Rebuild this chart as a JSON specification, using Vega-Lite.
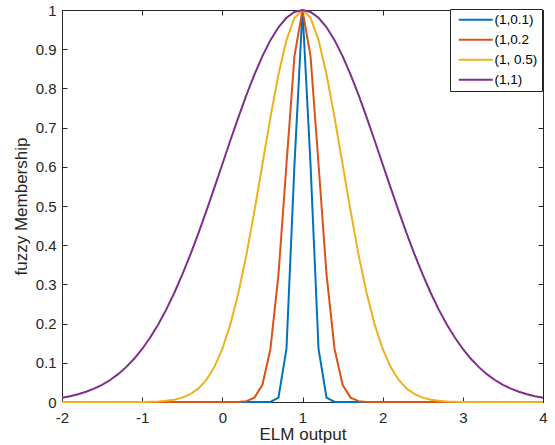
{
  "$schema": "https://vega.github.io/schema/vega-lite/v6.json",
  "autosize": {"type": "none"},
  "width": 481,
  "height": 392,
  "padding": {"left": 62, "top": 10, "right": 12, "bottom": 43},
  "background": "white",
  "config": {
    "font": "Liberation Sans",
    "view": {"stroke": "#262626", "strokeWidth": 1},
    "axis": {"labelFont": "Liberation Sans", "titleFont": "Liberation Sans", "labelColor": "#262626", "titleColor": "#262626", "titleFontWeight": "normal"}
  },
  "data": {"values": [
    {"x":-2,"s":"(1,0.1)","y":0},{"x":-1.9,"s":"(1,0.1)","y":0},{"x":-1.8,"s":"(1,0.1)","y":0},{"x":-1.7,"s":"(1,0.1)","y":0},{"x":-1.6,"s":"(1,0.1)","y":0},{"x":-1.5,"s":"(1,0.1)","y":0},{"x":-1.4,"s":"(1,0.1)","y":0},{"x":-1.3,"s":"(1,0.1)","y":0},{"x":-1.2,"s":"(1,0.1)","y":0},{"x":-1.1,"s":"(1,0.1)","y":0},{"x":-1,"s":"(1,0.1)","y":0},{"x":-0.9,"s":"(1,0.1)","y":0},{"x":-0.8,"s":"(1,0.1)","y":0},{"x":-0.7,"s":"(1,0.1)","y":0},{"x":-0.6,"s":"(1,0.1)","y":0},{"x":-0.5,"s":"(1,0.1)","y":0},{"x":-0.4,"s":"(1,0.1)","y":0},{"x":-0.3,"s":"(1,0.1)","y":0},{"x":-0.2,"s":"(1,0.1)","y":0},{"x":-0.1,"s":"(1,0.1)","y":0},{"x":0,"s":"(1,0.1)","y":0},{"x":0.1,"s":"(1,0.1)","y":0},{"x":0.2,"s":"(1,0.1)","y":0},{"x":0.3,"s":"(1,0.1)","y":0},{"x":0.4,"s":"(1,0.1)","y":0},{"x":0.5,"s":"(1,0.1)","y":0},{"x":0.6,"s":"(1,0.1)","y":0.0003},{"x":0.7,"s":"(1,0.1)","y":0.0111},{"x":0.8,"s":"(1,0.1)","y":0.1353},{"x":0.9,"s":"(1,0.1)","y":0.6065},{"x":1,"s":"(1,0.1)","y":1},{"x":1.1,"s":"(1,0.1)","y":0.6065},{"x":1.2,"s":"(1,0.1)","y":0.1353},{"x":1.3,"s":"(1,0.1)","y":0.0111},{"x":1.4,"s":"(1,0.1)","y":0.0003},{"x":1.5,"s":"(1,0.1)","y":0},{"x":1.6,"s":"(1,0.1)","y":0},{"x":1.7,"s":"(1,0.1)","y":0},{"x":1.8,"s":"(1,0.1)","y":0},{"x":1.9,"s":"(1,0.1)","y":0},{"x":2,"s":"(1,0.1)","y":0},{"x":2.1,"s":"(1,0.1)","y":0},{"x":2.2,"s":"(1,0.1)","y":0},{"x":2.3,"s":"(1,0.1)","y":0},{"x":2.4,"s":"(1,0.1)","y":0},{"x":2.5,"s":"(1,0.1)","y":0},{"x":2.6,"s":"(1,0.1)","y":0},{"x":2.7,"s":"(1,0.1)","y":0},{"x":2.8,"s":"(1,0.1)","y":0},{"x":2.9,"s":"(1,0.1)","y":0},{"x":3,"s":"(1,0.1)","y":0},{"x":3.1,"s":"(1,0.1)","y":0},{"x":3.2,"s":"(1,0.1)","y":0},{"x":3.3,"s":"(1,0.1)","y":0},{"x":3.4,"s":"(1,0.1)","y":0},{"x":3.5,"s":"(1,0.1)","y":0},{"x":3.6,"s":"(1,0.1)","y":0},{"x":3.7,"s":"(1,0.1)","y":0},{"x":3.8,"s":"(1,0.1)","y":0},{"x":3.9,"s":"(1,0.1)","y":0},{"x":4,"s":"(1,0.1)","y":0},
    {"x":-2,"s":"(1,0.2","y":0},{"x":-1.9,"s":"(1,0.2","y":0},{"x":-1.8,"s":"(1,0.2","y":0},{"x":-1.7,"s":"(1,0.2","y":0},{"x":-1.6,"s":"(1,0.2","y":0},{"x":-1.5,"s":"(1,0.2","y":0},{"x":-1.4,"s":"(1,0.2","y":0},{"x":-1.3,"s":"(1,0.2","y":0},{"x":-1.2,"s":"(1,0.2","y":0},{"x":-1.1,"s":"(1,0.2","y":0},{"x":-1,"s":"(1,0.2","y":0},{"x":-0.9,"s":"(1,0.2","y":0},{"x":-0.8,"s":"(1,0.2","y":0},{"x":-0.7,"s":"(1,0.2","y":0},{"x":-0.6,"s":"(1,0.2","y":0},{"x":-0.5,"s":"(1,0.2","y":0},{"x":-0.4,"s":"(1,0.2","y":0},{"x":-0.3,"s":"(1,0.2","y":0},{"x":-0.2,"s":"(1,0.2","y":0},{"x":-0.1,"s":"(1,0.2","y":0},{"x":0,"s":"(1,0.2","y":0},{"x":0.1,"s":"(1,0.2","y":0},{"x":0.2,"s":"(1,0.2","y":0.0003},{"x":0.3,"s":"(1,0.2","y":0.0022},{"x":0.4,"s":"(1,0.2","y":0.0111},{"x":0.5,"s":"(1,0.2","y":0.0439},{"x":0.6,"s":"(1,0.2","y":0.1353},{"x":0.7,"s":"(1,0.2","y":0.3247},{"x":0.8,"s":"(1,0.2","y":0.6065},{"x":0.9,"s":"(1,0.2","y":0.8825},{"x":1,"s":"(1,0.2","y":1},{"x":1.1,"s":"(1,0.2","y":0.8825},{"x":1.2,"s":"(1,0.2","y":0.6065},{"x":1.3,"s":"(1,0.2","y":0.3247},{"x":1.4,"s":"(1,0.2","y":0.1353},{"x":1.5,"s":"(1,0.2","y":0.0439},{"x":1.6,"s":"(1,0.2","y":0.0111},{"x":1.7,"s":"(1,0.2","y":0.0022},{"x":1.8,"s":"(1,0.2","y":0.0003},{"x":1.9,"s":"(1,0.2","y":0},{"x":2,"s":"(1,0.2","y":0},{"x":2.1,"s":"(1,0.2","y":0},{"x":2.2,"s":"(1,0.2","y":0},{"x":2.3,"s":"(1,0.2","y":0},{"x":2.4,"s":"(1,0.2","y":0},{"x":2.5,"s":"(1,0.2","y":0},{"x":2.6,"s":"(1,0.2","y":0},{"x":2.7,"s":"(1,0.2","y":0},{"x":2.8,"s":"(1,0.2","y":0},{"x":2.9,"s":"(1,0.2","y":0},{"x":3,"s":"(1,0.2","y":0},{"x":3.1,"s":"(1,0.2","y":0},{"x":3.2,"s":"(1,0.2","y":0},{"x":3.3,"s":"(1,0.2","y":0},{"x":3.4,"s":"(1,0.2","y":0},{"x":3.5,"s":"(1,0.2","y":0},{"x":3.6,"s":"(1,0.2","y":0},{"x":3.7,"s":"(1,0.2","y":0},{"x":3.8,"s":"(1,0.2","y":0},{"x":3.9,"s":"(1,0.2","y":0},{"x":4,"s":"(1,0.2","y":0},
    {"x":-2,"s":"(1, 0.5)","y":0},{"x":-1.9,"s":"(1, 0.5)","y":0},{"x":-1.8,"s":"(1, 0.5)","y":0},{"x":-1.7,"s":"(1, 0.5)","y":0},{"x":-1.6,"s":"(1, 0.5)","y":0},{"x":-1.5,"s":"(1, 0.5)","y":0},{"x":-1.4,"s":"(1, 0.5)","y":0},{"x":-1.3,"s":"(1, 0.5)","y":0},{"x":-1.2,"s":"(1, 0.5)","y":0.0001},{"x":-1.1,"s":"(1, 0.5)","y":0.0001},{"x":-1,"s":"(1, 0.5)","y":0.0003},{"x":-0.9,"s":"(1, 0.5)","y":0.0007},{"x":-0.8,"s":"(1, 0.5)","y":0.0015},{"x":-0.7,"s":"(1, 0.5)","y":0.0031},{"x":-0.6,"s":"(1, 0.5)","y":0.006},{"x":-0.5,"s":"(1, 0.5)","y":0.0111},{"x":-0.4,"s":"(1, 0.5)","y":0.0198},{"x":-0.3,"s":"(1, 0.5)","y":0.034},{"x":-0.2,"s":"(1, 0.5)","y":0.0561},{"x":-0.1,"s":"(1, 0.5)","y":0.0889},{"x":0,"s":"(1, 0.5)","y":0.1353},{"x":0.1,"s":"(1, 0.5)","y":0.1979},{"x":0.2,"s":"(1, 0.5)","y":0.278},{"x":0.3,"s":"(1, 0.5)","y":0.3753},{"x":0.4,"s":"(1, 0.5)","y":0.4868},{"x":0.5,"s":"(1, 0.5)","y":0.6065},{"x":0.6,"s":"(1, 0.5)","y":0.7261},{"x":0.7,"s":"(1, 0.5)","y":0.8353},{"x":0.8,"s":"(1, 0.5)","y":0.9231},{"x":0.9,"s":"(1, 0.5)","y":0.9802},{"x":1,"s":"(1, 0.5)","y":1},{"x":1.1,"s":"(1, 0.5)","y":0.9802},{"x":1.2,"s":"(1, 0.5)","y":0.9231},{"x":1.3,"s":"(1, 0.5)","y":0.8353},{"x":1.4,"s":"(1, 0.5)","y":0.7261},{"x":1.5,"s":"(1, 0.5)","y":0.6065},{"x":1.6,"s":"(1, 0.5)","y":0.4868},{"x":1.7,"s":"(1, 0.5)","y":0.3753},{"x":1.8,"s":"(1, 0.5)","y":0.278},{"x":1.9,"s":"(1, 0.5)","y":0.1979},{"x":2,"s":"(1, 0.5)","y":0.1353},{"x":2.1,"s":"(1, 0.5)","y":0.0889},{"x":2.2,"s":"(1, 0.5)","y":0.0561},{"x":2.3,"s":"(1, 0.5)","y":0.034},{"x":2.4,"s":"(1, 0.5)","y":0.0198},{"x":2.5,"s":"(1, 0.5)","y":0.0111},{"x":2.6,"s":"(1, 0.5)","y":0.006},{"x":2.7,"s":"(1, 0.5)","y":0.0031},{"x":2.8,"s":"(1, 0.5)","y":0.0015},{"x":2.9,"s":"(1, 0.5)","y":0.0007},{"x":3,"s":"(1, 0.5)","y":0.0003},{"x":3.1,"s":"(1, 0.5)","y":0.0001},{"x":3.2,"s":"(1, 0.5)","y":0.0001},{"x":3.3,"s":"(1, 0.5)","y":0},{"x":3.4,"s":"(1, 0.5)","y":0},{"x":3.5,"s":"(1, 0.5)","y":0},{"x":3.6,"s":"(1, 0.5)","y":0},{"x":3.7,"s":"(1, 0.5)","y":0},{"x":3.8,"s":"(1, 0.5)","y":0},{"x":3.9,"s":"(1, 0.5)","y":0},{"x":4,"s":"(1, 0.5)","y":0},
    {"x":-2,"s":"(1,1)","y":0.0111},{"x":-1.9,"s":"(1,1)","y":0.0149},{"x":-1.8,"s":"(1,1)","y":0.0198},{"x":-1.7,"s":"(1,1)","y":0.0261},{"x":-1.6,"s":"(1,1)","y":0.034},{"x":-1.5,"s":"(1,1)","y":0.0439},{"x":-1.4,"s":"(1,1)","y":0.0561},{"x":-1.3,"s":"(1,1)","y":0.071},{"x":-1.2,"s":"(1,1)","y":0.0889},{"x":-1.1,"s":"(1,1)","y":0.1103},{"x":-1,"s":"(1,1)","y":0.1353},{"x":-0.9,"s":"(1,1)","y":0.1645},{"x":-0.8,"s":"(1,1)","y":0.1979},{"x":-0.7,"s":"(1,1)","y":0.2357},{"x":-0.6,"s":"(1,1)","y":0.278},{"x":-0.5,"s":"(1,1)","y":0.3247},{"x":-0.4,"s":"(1,1)","y":0.3753},{"x":-0.3,"s":"(1,1)","y":0.4296},{"x":-0.2,"s":"(1,1)","y":0.4868},{"x":-0.1,"s":"(1,1)","y":0.5461},{"x":0,"s":"(1,1)","y":0.6065},{"x":0.1,"s":"(1,1)","y":0.667},{"x":0.2,"s":"(1,1)","y":0.7261},{"x":0.3,"s":"(1,1)","y":0.7827},{"x":0.4,"s":"(1,1)","y":0.8353},{"x":0.5,"s":"(1,1)","y":0.8825},{"x":0.6,"s":"(1,1)","y":0.9231},{"x":0.7,"s":"(1,1)","y":0.956},{"x":0.8,"s":"(1,1)","y":0.9802},{"x":0.9,"s":"(1,1)","y":0.995},{"x":1,"s":"(1,1)","y":1},{"x":1.1,"s":"(1,1)","y":0.995},{"x":1.2,"s":"(1,1)","y":0.9802},{"x":1.3,"s":"(1,1)","y":0.956},{"x":1.4,"s":"(1,1)","y":0.9231},{"x":1.5,"s":"(1,1)","y":0.8825},{"x":1.6,"s":"(1,1)","y":0.8353},{"x":1.7,"s":"(1,1)","y":0.7827},{"x":1.8,"s":"(1,1)","y":0.7261},{"x":1.9,"s":"(1,1)","y":0.667},{"x":2,"s":"(1,1)","y":0.6065},{"x":2.1,"s":"(1,1)","y":0.5461},{"x":2.2,"s":"(1,1)","y":0.4868},{"x":2.3,"s":"(1,1)","y":0.4296},{"x":2.4,"s":"(1,1)","y":0.3753},{"x":2.5,"s":"(1,1)","y":0.3247},{"x":2.6,"s":"(1,1)","y":0.278},{"x":2.7,"s":"(1,1)","y":0.2357},{"x":2.8,"s":"(1,1)","y":0.1979},{"x":2.9,"s":"(1,1)","y":0.1645},{"x":3,"s":"(1,1)","y":0.1353},{"x":3.1,"s":"(1,1)","y":0.1103},{"x":3.2,"s":"(1,1)","y":0.0889},{"x":3.3,"s":"(1,1)","y":0.071},{"x":3.4,"s":"(1,1)","y":0.0561},{"x":3.5,"s":"(1,1)","y":0.0439},{"x":3.6,"s":"(1,1)","y":0.034},{"x":3.7,"s":"(1,1)","y":0.0261},{"x":3.8,"s":"(1,1)","y":0.0198},{"x":3.9,"s":"(1,1)","y":0.0149},{"x":4,"s":"(1,1)","y":0.0111}
  ]},
  "layer": [
    {
      "mark": {"type": "line", "strokeWidth": 2, "opacity": 0},
      "encoding": {
        "x": {"field": "x", "type": "quantitative", "scale": {"domain": [-2, 4], "nice": false},
          "axis": {"orient": "top", "labels": false, "title": null, "grid": false, "domain": false, "values": [-2,-1,0,1,2,3,4], "tickSize": -5, "tickColor": "#262626"}},
        "y": {"field": "y", "type": "quantitative", "scale": {"domain": [0, 1], "nice": false},
          "axis": {"orient": "right", "labels": false, "title": null, "grid": false, "domain": false, "values": [0,0.1,0.2,0.3,0.4,0.5,0.6,0.7,0.8,0.9,1], "tickSize": -5, "tickColor": "#262626"}},
        "detail": {"field": "s"}
      }
    },
    {
      "mark": {"type": "line", "strokeWidth": 2},
      "encoding": {
        "x": {"field": "x", "type": "quantitative", "scale": {"domain": [-2, 4], "nice": false},
          "axis": {"orient": "bottom", "title": "ELM output", "titleFontSize": 17, "titlePadding": 1, "labelFontSize": 15, "values": [-2,-1,0,1,2,3,4], "labelExpr": "'' + datum.value", "tickSize": -5, "labelPadding": 13, "tickColor": "#262626", "domainColor": "#262626", "gridColor": "#e3e3e3", "labelFlush": false}},
        "y": {"field": "y", "type": "quantitative", "scale": {"domain": [0, 1], "nice": false},
          "axis": {"orient": "left", "title": "fuzzy Membership", "titleFontSize": 17, "titlePadding": 5, "labelFontSize": 15, "values": [0,0.1,0.2,0.3,0.4,0.5,0.6,0.7,0.8,0.9,1], "format": ".1~f", "tickSize": -5, "labelPadding": 11, "tickColor": "#262626", "domainColor": "#262626", "gridColor": "#e3e3e3", "labelFlush": false}},
        "color": {"field": "s", "type": "nominal",
          "scale": {"domain": ["(1,0.1)", "(1,0.2", "(1, 0.5)", "(1,1)"], "range": ["#0072BD", "#D95319", "#EDB120", "#7E2F8E"]},
          "legend": {"orient": "none", "legendX": 388, "legendY": -1, "title": null, "fillColor": "white", "strokeColor": "#262626", "padding": 4, "labelFontSize": 13.5, "labelFont": "Liberation Sans", "labelColor": "#000000", "symbolType": "M-0.4,0H6.4", "symbolSize": 100, "symbolStrokeWidth": 2, "labelOffset": 27, "rowPadding": 5}
        }
      }
    }
  ],
  "resolve": {"axis": {"x": "independent", "y": "independent"}}
}
